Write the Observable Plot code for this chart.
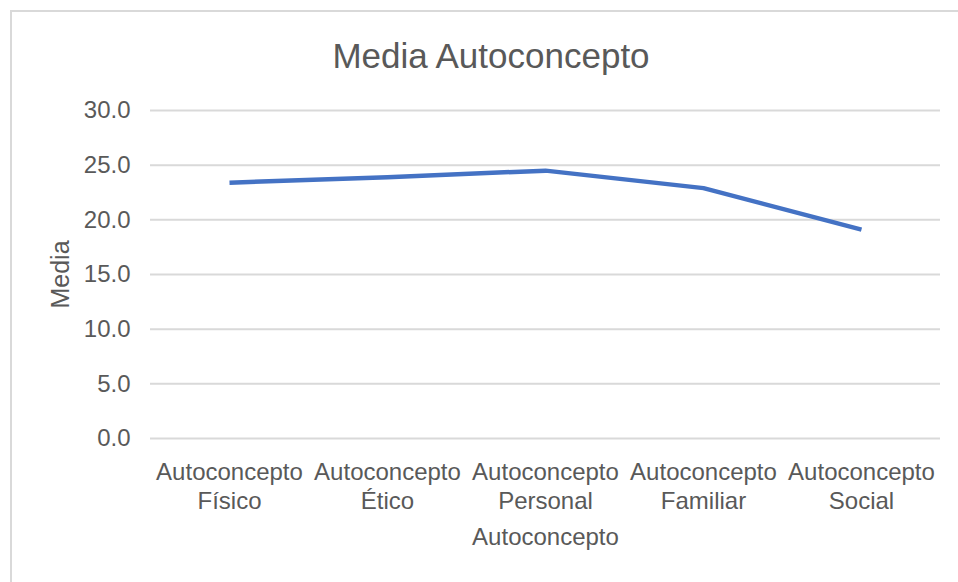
<!DOCTYPE html>
<html>
<head>
<meta charset="utf-8">
<script src="https://cdn.jsdelivr.net/npm/d3@7"></script>
<script src="https://cdn.jsdelivr.net/npm/@observablehq/plot@0.6"></script>
<style>
  html, body { margin: 0; padding: 0; background: #fff; }
  #chart { position: relative; width: 958px; height: 582px; overflow: hidden; background: #fff; font-family: "Liberation Sans", Arial, sans-serif; }
  #frame { position: absolute; left: 10px; top: 10px; width: 1200px; height: 1200px; border: 2px solid #d9d9d9; box-sizing: border-box; }
  #title { position: absolute; left: 0; top: 38px; width: 982px; text-align: center; font-size: 35px; line-height: 1; color: #595959; }
  #plot { position: absolute; left: 0; top: 80px; }
</style>
</head>
<body>
<div id="chart">
  <div id="frame"></div>
  <div id="title">Media Autoconcepto</div>
  <div id="plot"></div>
</div>
<script>
const categories = ["Autoconcepto Físico", "Autoconcepto Ético", "Autoconcepto Personal", "Autoconcepto Familiar", "Autoconcepto Social"];
const means = [23.4, 23.9, 24.5, 22.9, 19.1];
const yTicks = [0, 5, 10, 15, 20, 25, 30];
const xTitle = "Autoconcepto";
const yTitle = "Media";

const data = categories.map((c, i) => ({cat: c, val: means[i]}));

const chart = Plot.plot({
  width: 958,
  height: 502,
  marginTop: 30,
  marginBottom: 144,
  marginLeft: 150,
  marginRight: 18,
  style: {fontFamily: "'Liberation Sans', Arial, sans-serif", fontSize: "24px", color: "#595959", background: "transparent", overflow: "visible"},
  x: {type: "point", domain: categories, padding: 0.5, axis: null},
  y: {domain: [0, 30], axis: null},
  marks: [
    Plot.ruleY(yTicks, {stroke: "#d9d9d9", strokeWidth: 2}),
    Plot.axisY({ticks: yTicks, tickFormat: d => d.toFixed(1), tickSize: 0, tickPadding: 20, label: null, fontSize: 24}),
    Plot.axisX({tickSize: 0, tickPadding: 22, tickFormat: d => d.replace(" ", "\n"), lineHeight: 1.17, label: null, fontSize: 24}),
    Plot.line(data, {x: "cat", y: "val", stroke: "#4472c4", strokeWidth: 4.5, strokeLinecap: "butt", strokeLinejoin: "round"}),
    Plot.text([xTitle], {frameAnchor: "bottom", dy: 89, lineAnchor: "top", fontSize: 24, fill: "#595959"}),
    Plot.text([yTitle], {frameAnchor: "left", dx: -90, rotate: -90, textAnchor: "middle", fontSize: 25, fill: "#595959"})
  ]
});
document.getElementById("plot").appendChild(chart);
</script>
</body>
</html>
